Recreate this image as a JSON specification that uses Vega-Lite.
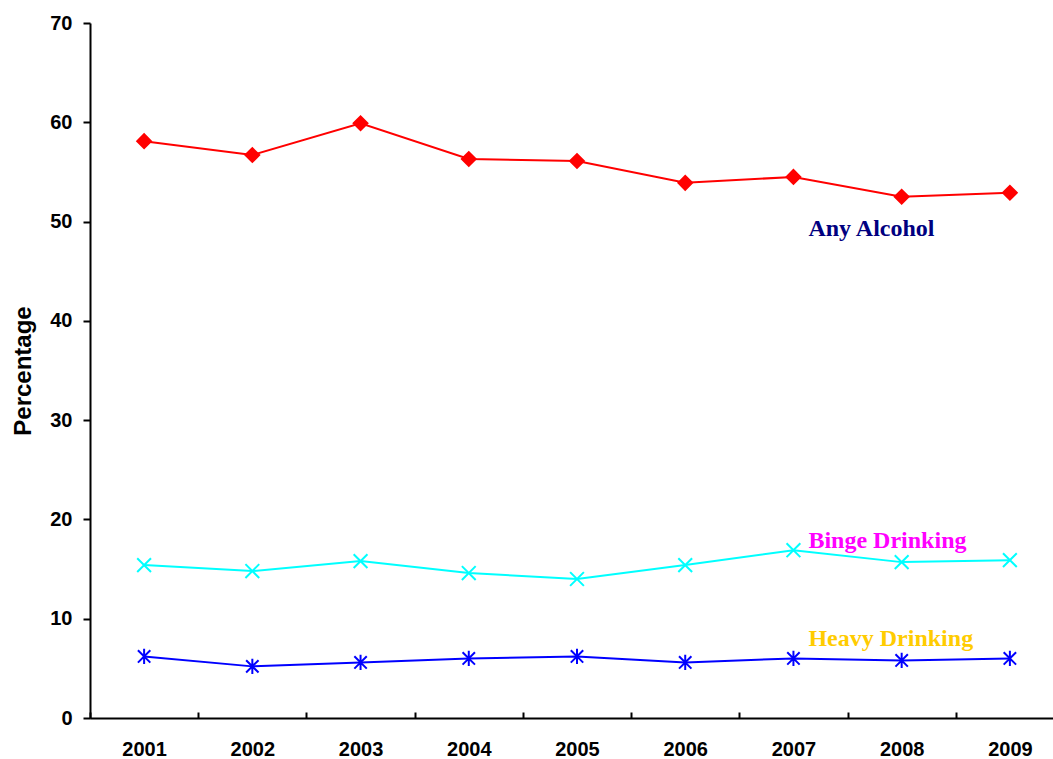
{
  "$schema": "https://vega.github.io/schema/vega-lite/v6.json",
  "autosize": {"type": "none"},
  "width": 963,
  "height": 695,
  "padding": {"left": 90, "top": 23, "right": 0, "bottom": 41},
  "background": "white",
  "config": {"view": {"stroke": null}},
  "datasets": {
    "series": [
      {"year": "2001", "series": "Any Alcohol", "value": 58.1},
      {"year": "2002", "series": "Any Alcohol", "value": 56.7},
      {"year": "2003", "series": "Any Alcohol", "value": 59.9},
      {"year": "2004", "series": "Any Alcohol", "value": 56.3},
      {"year": "2005", "series": "Any Alcohol", "value": 56.1},
      {"year": "2006", "series": "Any Alcohol", "value": 53.9},
      {"year": "2007", "series": "Any Alcohol", "value": 54.5},
      {"year": "2008", "series": "Any Alcohol", "value": 52.5},
      {"year": "2009", "series": "Any Alcohol", "value": 52.9},
      {"year": "2001", "series": "Binge Drinking", "value": 15.4},
      {"year": "2002", "series": "Binge Drinking", "value": 14.8},
      {"year": "2003", "series": "Binge Drinking", "value": 15.8},
      {"year": "2004", "series": "Binge Drinking", "value": 14.6},
      {"year": "2005", "series": "Binge Drinking", "value": 14.0},
      {"year": "2006", "series": "Binge Drinking", "value": 15.4},
      {"year": "2007", "series": "Binge Drinking", "value": 16.9},
      {"year": "2008", "series": "Binge Drinking", "value": 15.7},
      {"year": "2009", "series": "Binge Drinking", "value": 15.9},
      {"year": "2001", "series": "Heavy Drinking", "value": 6.2},
      {"year": "2002", "series": "Heavy Drinking", "value": 5.2},
      {"year": "2003", "series": "Heavy Drinking", "value": 5.6},
      {"year": "2004", "series": "Heavy Drinking", "value": 6.0},
      {"year": "2005", "series": "Heavy Drinking", "value": 6.2},
      {"year": "2006", "series": "Heavy Drinking", "value": 5.6},
      {"year": "2007", "series": "Heavy Drinking", "value": 6.0},
      {"year": "2008", "series": "Heavy Drinking", "value": 5.8},
      {"year": "2009", "series": "Heavy Drinking", "value": 6.0}
    ],
    "labels": [
      {"year": "2007", "label": "Any Alcohol", "value": 48.5},
      {"year": "2007", "label": "Binge Drinking", "value": 17.1},
      {"year": "2007", "label": "Heavy Drinking", "value": 7.3}
    ]
  },
  "encoding": {
    "x": {
      "field": "year", "type": "ordinal",
      "scale": {"type": "band", "range": [0, 974], "paddingInner": 0, "paddingOuter": 0},
      "axis": {
        "title": null, "labelAngle": 0, "tickBand": "extent",
        "labelFont": "Liberation Sans", "labelFontWeight": "bold", "labelFontSize": 20, "labelColor": "black",
        "tickSize": -6, "tickColor": "black", "tickWidth": 2,
        "domainColor": "black", "domainWidth": 2, "labelPadding": 27, "grid": false
      }
    },
    "y": {
      "field": "value", "type": "quantitative",
      "scale": {"domain": [0, 70], "nice": false},
      "axis": {
        "title": "Percentage", "values": [0, 10, 20, 30, 40, 50, 60, 70],
        "titleFont": "Liberation Sans", "titleFontWeight": "bold", "titleFontSize": 24, "titleColor": "black",
        "titlePadding": 14,
        "labelFont": "Liberation Sans", "labelFontWeight": "bold", "labelFontSize": 20, "labelColor": "black",
        "tickSize": 7, "tickColor": "black", "tickWidth": 2, "labelPadding": 11,
        "domainColor": "black", "domainWidth": 2, "grid": false
      }
    }
  },
  "layer": [
    {
      "data": {"name": "series"},
      "mark": {"type": "line", "strokeWidth": 2},
      "encoding": {
        "stroke": {"field": "series", "type": "nominal",
          "scale": {"domain": ["Any Alcohol", "Binge Drinking", "Heavy Drinking"], "range": ["#FF0000", "#00FFFF", "#0000FF"]},
          "legend": null}
      }
    },
    {
      "data": {"name": "series"},
      "mark": {"type": "point", "filled": true, "strokeWidth": 2, "opacity": 1, "size": 190},
      "encoding": {
        "fill": {"field": "series", "type": "nominal",
          "scale": {"domain": ["Any Alcohol", "Binge Drinking", "Heavy Drinking"], "range": ["#FF0000", "#00FFFF", "#0000FF"]},
          "legend": null},
        "stroke": {"field": "series", "type": "nominal", "legend": null},
        "shape": {"field": "series", "type": "nominal",
          "scale": {"domain": ["Any Alcohol", "Binge Drinking", "Heavy Drinking"],
            "range": ["diamond", "M-1,-1L1,1M-1,1L1,-1", "M-0.9,-0.9L0.9,0.9M-0.9,0.9L0.9,-0.9M0,-1.1L0,1.1"]},
          "legend": null}
      }
    },
    {
      "data": {"name": "labels"},
      "mark": {"type": "text", "align": "left", "baseline": "alphabetic", "dx": 15,
        "font": "Liberation Serif", "fontWeight": "bold", "fontSize": 24},
      "encoding": {
        "text": {"field": "label"},
        "color": {"field": "label", "type": "nominal",
          "scale": {"domain": ["Any Alcohol", "Binge Drinking", "Heavy Drinking"], "range": ["#000080", "#FF00FF", "#FFCC00"]},
          "legend": null}
      }
    }
  ]
}
